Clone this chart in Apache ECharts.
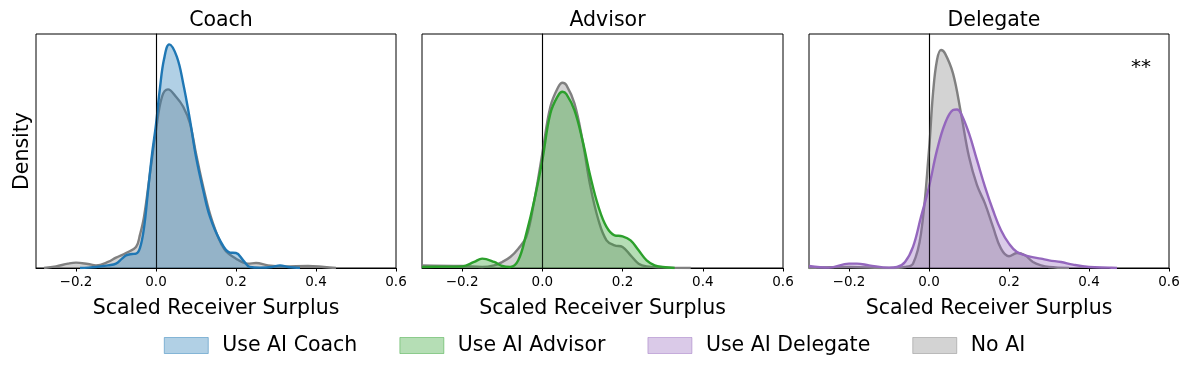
<!DOCTYPE html>
<html><head><meta charset="utf-8">
<script src="https://cdn.jsdelivr.net/npm/echarts@6/dist/echarts.min.js"></script>
<style>html,body{margin:0;padding:0;background:#fff}#c{width:1189px;height:374px}</style>
</head><body><div id="c"></div>
<script>
// relative density values (x, density)
const coachAI = [[-0.19,0],[-0.17,1],[-0.15,3],[-0.12,8],[-0.1,13],[-0.085,28],[-0.075,38],[-0.06,42],[-0.05,43],[-0.04,60],[-0.03,120],[-0.02,230],[-0.01,340],[0,430],[0.01,540],[0.02,625],[0.033,670],[0.052,633],[0.068,553],[0.085,443],[0.1,333],[0.118,233],[0.135,153],[0.16,83],[0.185,46],[0.2,45],[0.218,23],[0.235,3],[0.26,1],[0.29,3],[0.31,8],[0.33,3],[0.36,0]];
const coachNoAI = [[-0.28,0],[-0.25,5],[-0.22,13],[-0.2,16],[-0.17,12],[-0.15,8],[-0.12,18],[-0.1,31],[-0.075,45],[-0.05,63],[-0.04,100],[-0.03,153],[-0.015,283],[0,413],[0.015,513],[0.03,535],[0.05,513],[0.068,483],[0.085,433],[0.1,343],[0.12,233],[0.14,143],[0.17,58],[0.2,28],[0.23,13],[0.25,15],[0.28,8],[0.32,5],[0.38,6],[0.42,3],[0.45,0]];
const advisorAI = [[-0.3,3],[-0.25,4],[-0.2,5],[-0.17,18],[-0.15,28],[-0.12,18],[-0.1,6],[-0.08,3],[-0.06,23],[-0.04,103],[-0.02,203],[0,323],[0.02,463],[0.04,518],[0.05,528],[0.06,521],[0.08,473],[0.1,383],[0.12,273],[0.14,183],[0.16,123],[0.18,98],[0.2,95],[0.22,83],[0.24,53],[0.26,23],[0.28,8],[0.3,3],[0.33,0]];
const advisorNoAI = [[-0.3,8],[-0.2,6],[-0.15,3],[-0.12,8],[-0.1,18],[-0.08,33],[-0.06,58],[-0.04,93],[-0.02,203],[0,343],[0.02,483],[0.04,543],[0.05,555],[0.06,548],[0.08,493],[0.1,383],[0.12,243],[0.14,143],[0.16,83],[0.18,68],[0.2,63],[0.22,38],[0.24,13],[0.26,5],[0.3,2],[0.37,0]];
const delegateAI = [[-0.3,6],[-0.25,1],[-0.2,13],[-0.18,13],[-0.15,8],[-0.1,1],[-0.08,3],[-0.06,18],[-0.04,63],[-0.02,153],[0,243],[0.02,353],[0.04,433],[0.06,473],[0.07,475],[0.08,463],[0.1,403],[0.12,323],[0.14,243],[0.16,173],[0.18,113],[0.2,73],[0.22,48],[0.25,35],[0.28,28],[0.3,23],[0.33,18],[0.36,10],[0.4,3],[0.45,1],[0.47,0]];
const delegateNoAI = [[-0.3,0],[-0.2,3],[-0.1,0],[-0.06,3],[-0.04,13],[-0.02,103],[0,353],[0.01,523],[0.02,623],[0.03,653],[0.04,643],[0.06,583],[0.08,463],[0.1,333],[0.12,248],[0.14,193],[0.16,123],[0.18,58],[0.2,35],[0.22,45],[0.24,38],[0.26,18],[0.28,8],[0.3,3],[0.35,0]];
const panelTitles = ['Coach','Advisor','Delegate'];
const aiNames = ['Use AI Coach','Use AI Advisor','Use AI Delegate'];
const noAIName = 'No AI';
const xTicks = [-0.2,0,0.2,0.4,0.6];
const yMax = 701;
const annotation = '**';

const FONT = 'DejaVu Sans';
const BIG = 20.5, SMALL = 13.5;
const aiColors = ['#1f77b4','#2ca02c','#9467bd'];
const aiFills = ['rgba(31,119,180,0.35)','rgba(44,160,44,0.35)','rgba(148,103,189,0.35)'];
const greyLine = '#808080', greyFill = 'rgba(128,128,128,0.35)';
const aiData = [coachAI, advisorAI, delegateAI];
const noData = [coachNoAI, advisorNoAI, delegateNoAI];
const gridLefts = [36, 422, 809];
const gridWidths = [360, 361, 360];

const grids = [], xAxes = [], yAxes = [], series = [], titles = [];
for (let i = 0; i < 3; i++) {
  grids.push({left: gridLefts[i], top: 34, width: gridWidths[i], height: 234, show: true, borderColor: '#000', borderWidth: 1, containLabel: false});
  titles.push({text: panelTitles[i], left: gridLefts[i] + gridWidths[i]/2, top: 5, textAlign: 'center',
    textStyle: {fontFamily: FONT, fontSize: BIG, fontWeight: 'normal', color: '#000'}});
  xAxes.push({type: 'value', gridIndex: i, min: -0.3, max: 0.6, interval: 0.1,
    name: 'Scaled Receiver Surplus', nameLocation: 'middle', nameGap: 30,
    nameTextStyle: {fontFamily: FONT, fontSize: BIG, color: '#000'},
    axisLine: {show: true, onZero: false, lineStyle: {color: '#000', width: 1}},
    axisTick: {show: true, length: 3.5, customValues: xTicks, lineStyle: {color: '#000'}},
    axisLabel: {customValues: xTicks, margin: 7, fontFamily: FONT, fontSize: SMALL, color: '#000',
      formatter: v => (v < 0 ? '\u2212' : '') + Math.abs(v).toFixed(1)},
    splitLine: {show: false}});
  yAxes.push({type: 'value', gridIndex: i, min: 0, max: yMax,
    name: i === 0 ? 'Density' : '', nameLocation: 'middle', nameGap: 3,
    nameTextStyle: {fontFamily: FONT, fontSize: BIG, color: '#000'},
    axisLine: {show: true, lineStyle: {color: '#000'}}, axisTick: {show: false}, axisLabel: {show: false}, splitLine: {show: false}});
  series.push({type: 'line', name: noAIName, xAxisIndex: i, yAxisIndex: i, data: noData[i], smooth: 0.4,
    showSymbol: false, symbol: 'none', lineStyle: {color: greyLine, width: 2.4},
    itemStyle: {color: greyFill}, areaStyle: {color: greyFill, opacity: 1, origin: 'start'}, z: 2});
  series.push({type: 'line', name: aiNames[i], xAxisIndex: i, yAxisIndex: i, data: aiData[i], smooth: 0.4,
    showSymbol: false, symbol: 'none', lineStyle: {color: aiColors[i], width: 2.4},
    itemStyle: {color: aiFills[i]}, areaStyle: {color: aiFills[i], opacity: 1, origin: 'start'}, z: 3,
    markLine: {silent: true, symbol: 'none', label: {show: false}, animation: false,
      lineStyle: {color: 'rgba(0,0,0,0.7)', width: 1.2, type: 'solid'}, data: [{xAxis: 0}]}});
}

const legendData = [
  {name: aiNames[0], itemStyle: {color: aiFills[0], borderColor: 'rgba(31,119,180,0.45)', borderWidth: 1}},
  {name: aiNames[1], itemStyle: {color: aiFills[1], borderColor: 'rgba(44,160,44,0.45)', borderWidth: 1}},
  {name: aiNames[2], itemStyle: {color: aiFills[2], borderColor: 'rgba(148,103,189,0.45)', borderWidth: 1}},
  {name: noAIName, itemStyle: {color: greyFill, borderColor: 'rgba(128,128,128,0.45)', borderWidth: 1}}
];

const chart = echarts.init(document.getElementById('c'), null, {renderer: 'canvas'});
chart.setOption({
  animation: false,
  backgroundColor: '#fff',
  title: titles,
  grid: grids, xAxis: xAxes, yAxis: yAxes, series: series,
  legend: {data: legendData, left: 'center', top: 330, icon: 'rect', itemWidth: 44, itemHeight: 16, itemGap: 42,
    lineStyle: {width: 0, opacity: 0},
    textStyle: {fontFamily: FONT, fontSize: BIG, color: '#000', padding: [0, 0, 0, 9]}},
  graphic: [{type: 'text', left: 1131, top: 58, style: {text: annotation, font: '20px "DejaVu Sans"', fill: '#000'}}]
});
</script></body></html>
